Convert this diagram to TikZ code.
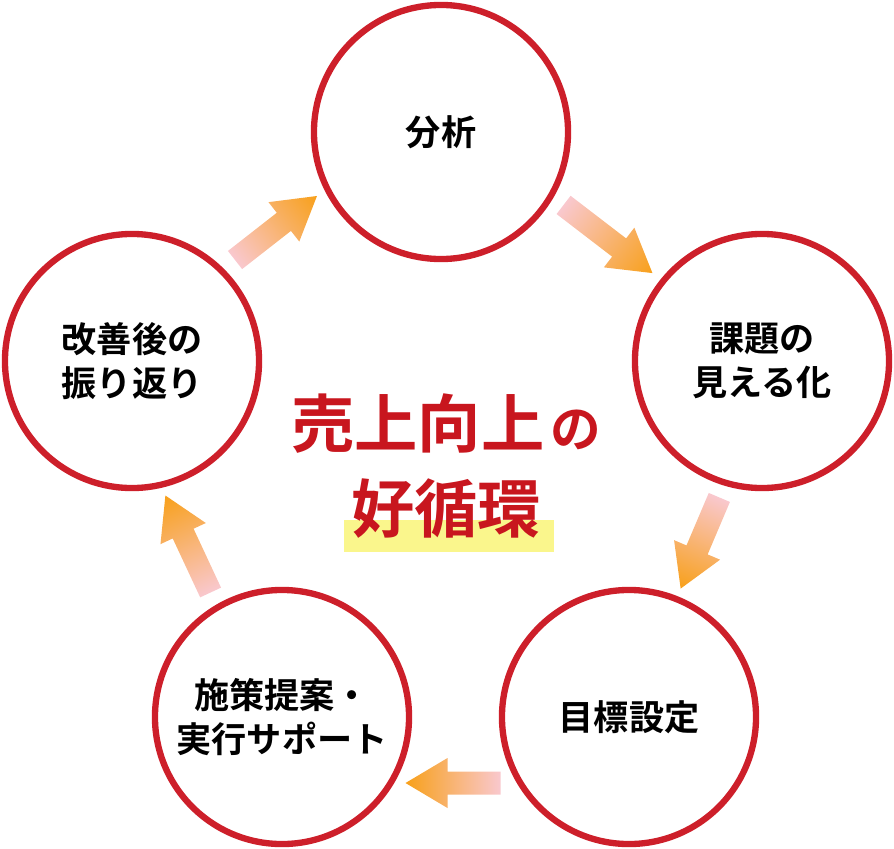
\documentclass[tikz,border=0pt]{standalone}
\usepackage{fontspec}
\setmainfont{Noto Sans CJK JP}[BoldFont={Noto Sans CJK JP Bold}]
\definecolor{ringred}{HTML}{CD1F2A}
\definecolor{titlered}{HTML}{C8161E}
\definecolor{arrowpink}{HTML}{F9C8CE}
\definecolor{arroworange}{HTML}{F8A01A}
\definecolor{markyellow}{HTML}{FAF68C}
\tikzset{stage/.style={circle,draw=ringred,line width=4.5pt,minimum size=6.35cm,inner sep=0pt,
    align=center,font=\bfseries\fontsize{25pt}{31pt}\selectfont}}
\tikzset{title/.style={text=titlered,inner sep=0pt,font=\bfseries}}

\begin{document}
\begin{tikzpicture}[x=0.025cm,y=-0.025cm]
      \useasboundingbox (0,0) rectangle (894,848);
      \node[stage] (analysis) at (441,132) {分析};
      \node[stage] (visual) at (762,361) {課題の\\見える化};
      \node[stage] (goal) at (629,717) {目標設定};
      \node[stage] (action) at (282,717) {施策提案・\\実行サポート};
      \node[stage] (review) at (132,361) {改善後の\\振り返り};
      % gradient arrows between the stages
      \foreach \px/\py/\ang/\len in {608/239/-37.5/112,700/543/-113/99,453/783/180/95,188/544/115/107,276/228/38/104}
        \shade[transform canvas={shift={(\px,\py)},rotate=\ang},left color=arrowpink,right color=arroworange]
          (-\len/2,-11.5) -- (\len/2-42,-11.5) -- (\len/2-42,-25) -- (\len/2,0)
          -- (\len/2-42,25) -- (\len/2-42,11.5) -- (-\len/2,11.5) -- cycle;

      \fill[markyellow] (344,520) rectangle (554,552);
      \node[title] (line1) at (446,424) {\fontsize{45pt}{50pt}\selectfont 売上向上\hspace{4pt}\fontsize{36pt}{40pt}\selectfont の};
      \node[title] (line2) at (446,509) {\fontsize{45pt}{50pt}\selectfont 好循環};
    \end{tikzpicture}
\end{document}
